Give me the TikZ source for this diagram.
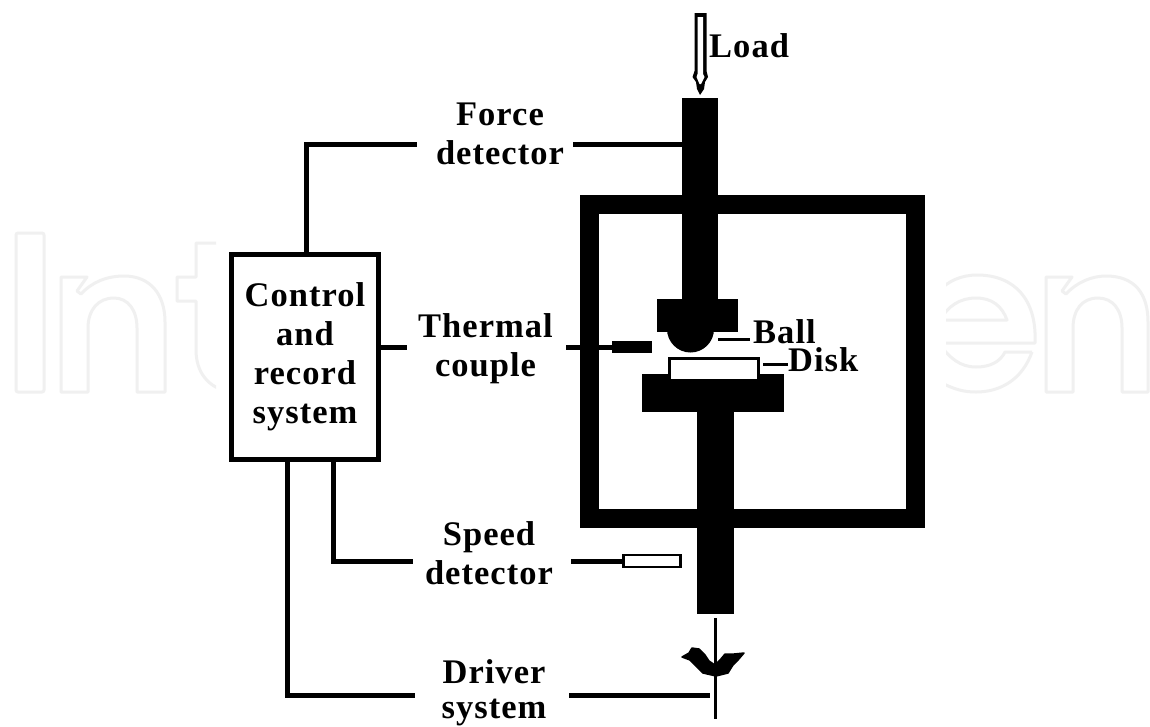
\documentclass[tikz,border=0pt]{standalone}
\usepackage{fontspec}
\setmainfont[LetterSpace=3]{Liberation Serif}
\tikzset{
  lab/.style={font=\bfseries\fontsize{34.5}{39}\selectfont,align=center,inner sep=0pt,text=black},
  tightlab/.style={font=\bfseries\fontsize{34.5}{35.5}\selectfont,align=center,inner sep=0pt,text=black},
  wire/.style={line width=5pt,black},
  thin wire/.style={line width=3pt,black},
  solid part/.style={fill=black,draw=none,inner sep=0pt},
  wm/.style={draw=black!6,line width=3pt,line join=round}
}
\begin{document}
\begin{tikzpicture}[x=1pt,y=-1pt]
\useasboundingbox[fill=white] (0,0) rectangle (1150,726);
% faint background lettering
\draw[wm,rounded corners=2pt] (16,233) rectangle (44,392);
\draw[wm] (61,277)--(87,277)--(77,291)--(81,294) .. controls (92,282) and (107,276) .. (124,276) .. controls (150,276) and (165,294) .. (165,322) -- (165,392) -- (137,392) -- (137,328) .. controls (137,310) and (128,298) .. (114,298) .. controls (98,298) and (88,310) .. (88,328) -- (88,392) -- (61,392) -- cycle;
\begin{scope}
\clip (170,230) rectangle (216,400);
\draw[wm] (230,243)--(196,243)--(196,277)--(177,277)--(177,301)--(196,301)--(196,350) .. controls (196,372) and (208,388) .. (230,392);
\end{scope}
\begin{scope}
\clip (946,260) rectangle (1150,400);
\draw[wm] (920,343)--(1035,343) .. controls (1037,300) and (1015,275) .. (977,275) .. controls (945,275) and (925,300) .. (920,330);
\draw[wm] (920,320)--(1007,320) .. controls (1002,306) and (992,298) .. (976,298) .. controls (960,298) and (948,306) .. (940,320);
\draw[wm] (1032,352)--(1005,352) .. controls (1000,362) and (990,367) .. (976,367) .. controls (960,367) and (950,358) .. (940,345);
\draw[wm] (1032,352) .. controls (1022,380) and (1000,392) .. (976,392) .. controls (965,392) and (955,390) .. (940,382);
\draw[wm] (1046,277)--(1072,277)--(1062,291)--(1066,294) .. controls (1077,282) and (1092,276) .. (1106,276) .. controls (1135,276) and (1148,294) .. (1148,322) -- (1148,392) -- (1122,392) -- (1122,328) .. controls (1122,310) and (1113,298) .. (1098,298) .. controls (1082,298) and (1073,310) .. (1073,328) -- (1073,392) -- (1046,392) -- cycle;
\end{scope}
% frame and shafts
\draw[line width=19pt,black] (589,204) rectangle (915.5,518.5);
\node[solid part,minimum width=36pt,minimum height=234pt] (upper) at (700,215) {};
\node[solid part,minimum width=81pt,minimum height=33pt] (holder) at (697.5,315.5) {};
\fill[black] (667,329) arc[start angle=180,end angle=360,radius=23.5pt] -- cycle;
\node[solid part,minimum width=142pt,minimum height=38pt] (base) at (713,393) {};
\node[solid part,minimum width=37pt,minimum height=202pt] (lower) at (715.5,513) {};
\node[draw=black,line width=3pt,fill=white,minimum width=89pt,minimum height=22pt,inner sep=0pt] (disk) at (714,369) {};
% load arrow
\coordinate (loadtip) at (700,95);
\fill[black] (694.5,13) -- (706.5,13) -- (706.5,71) -- (708,77) -- (705,82) -- (704,89) -- (loadtip) -- (697,89) -- (696,82) -- (692.5,77) -- (694.5,71) -- cycle;
\fill[white] (697.5,17) -- (703,17) -- (703,74) -- (704.5,77) -- (701,84) -- (699.5,84) -- (696.5,77) -- (697.5,74) -- cycle;
% sensors
\node[solid part,minimum width=40pt,minimum height=12pt] (tc) at (632,347) {};
\node[draw=black,line width=2.5pt,fill=white,minimum width=57pt,minimum height=12pt,inner sep=0pt] (sd) at (652,561) {};
% labels
\node[draw=black,line width=5pt,fill=white,minimum width=147pt,minimum height=205pt,lab] (ctrl) at (305,357) {Control\\and\\record\\system};
\node[lab] (force) at (500,133.5) {Force\\detector};
\node[lab] (thermal) at (485.5,349) {Thermal\\couple};
\node[lab] (speed) at (489,553.5) {Speed\\detector};
\node[tightlab] (driver) at (494,692.5) {Driver\\system};
\node[lab,anchor=base west] (load) at (709,57) {Load};
\node[lab,anchor=base west] (ball) at (753,343) {Ball};
\node[lab,anchor=base west] (disktext) at (788,371) {Disk};
% connectors
\coordinate (f1) at (306,144); \coordinate (f2) at (417,144); \coordinate (f3) at (573,144);
\draw[wire] (ctrl.north -| f1) -- (f1) -- (f2);
\draw[wire] (f3) -- (f3 -| upper.west);
\coordinate (t1) at (407,347); \coordinate (t2) at (566,347);
\draw[wire] (ctrl.east |- t1) -- (t1);
\draw[wire] (t2) -- (tc.west);
\coordinate (s1) at (333,561); \coordinate (s2) at (413,561); \coordinate (s3) at (571,561);
\draw[wire] (ctrl.south -| s1) -- (s1) -- (s2);
\draw[wire] (s3) -- (sd.west);
\coordinate (d1) at (287,695); \coordinate (d2) at (415,695); \coordinate (d3) at (569,695); \coordinate (d4) at (710,695);
\draw[wire] (ctrl.south -| d1) -- (d1) -- (d2);
\draw[wire] (d3) -- (d4);
\coordinate (sp1) at (715,618); \coordinate (sp2) at (715,719);
\draw[thin wire] (sp1) -- (sp2);
\coordinate (b1) at (718,339); \coordinate (b2) at (750,339);
\draw[thin wire] (b1) -- (b2);
\coordinate (k1) at (763,364); \coordinate (k2) at (788,364);
\draw[thin wire] (k1) -- (k2);
% rotation mark
\fill[black,draw=black,line width=1.5pt,line join=round] (682,657) -- (689,653) -- (692,648) -- (699,649) -- (705,655) -- (709,661) -- (715,665) -- (720,660) -- (725,654) -- (734,654) -- (744,653) -- (738,660) -- (733,665) -- (728,673) -- (716,676) -- (703,673) -- (696,666) -- (690,660) -- cycle;
\end{tikzpicture}
\end{document}
